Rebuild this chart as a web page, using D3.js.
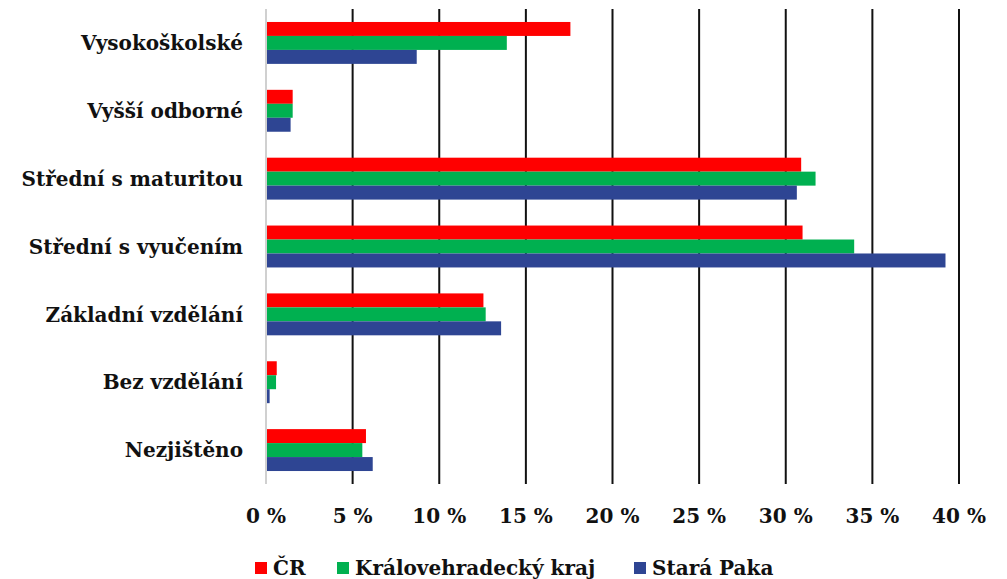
<!DOCTYPE html>
<html><head><meta charset="utf-8">
<script src="https://cdn.jsdelivr.net/npm/d3@7"></script>
<style>body{margin:0;background:#fff}</style>
</head><body>
<svg id="c" width="1007" height="579"></svg>
<script>
const categories = ["Vysokoškolské","Vyšší odborné","Střední s maturitou","Střední s vyučením","Základní vzdělání","Bez vzdělání","Nezjištěno"];
const seriesNames = ["ČR","Královehradecký kraj","Stará Paka"];
const cr =        [17.57, 1.54, 30.89, 30.97, 12.55, 0.62, 5.77];
const kraj =      [13.90, 1.54, 31.72, 33.95, 12.68, 0.58, 5.56];
const staraPaka = [8.70, 1.42, 30.64, 39.22, 13.57, 0.21, 6.16];
const tickValues = [0,5,10,15,20,25,30,35,40];
const colors = ["#ff0000","#00b050","#2e4593"];
const series = [cr, kraj, staraPaka];

const svg = d3.select("#c");
const pL = 266, pR = 959, pT = 9, pB = 484;
const x = d3.scaleLinear().domain([0,40]).range([pL,pR]);
const y = d3.scaleBand().domain(categories).range([pT,pB]).paddingInner(26/68).paddingOuter(13/68);
const y1 = d3.scaleBand().domain(seriesNames).range([0,y.bandwidth()]);

// gridlines
svg.append("g").selectAll("line").data(tickValues.slice(1)).join("line")
  .attr("x1",d=>x(d)).attr("x2",d=>x(d)).attr("y1",pT).attr("y2",pB)
  .attr("stroke","#111").attr("stroke-width",2);

// bars
categories.forEach((c,i)=>{
  const g = svg.append("g").attr("transform",`translate(0,${y(c)})`);
  g.selectAll("rect").data(series.map((s,j)=>({name:seriesNames[j],v:s[i],col:colors[j]}))).join("rect")
    .attr("x",x(0)).attr("y",d=>y1(d.name)).attr("width",d=>x(d.v)-x(0)).attr("height",y1.bandwidth())
    .attr("fill",d=>d.col);
});

// zero axis
svg.append("line").attr("x1",x(0)).attr("x2",x(0)).attr("y1",pT).attr("y2",pB)
  .attr("stroke","#d0d0d0").attr("stroke-width",2);

// category labels
svg.append("g").selectAll("text").data(categories).join("text")
  .attr("x",243).attr("y",d=>y(d)+y.bandwidth()/2).attr("dy","0.36em")
  .attr("text-anchor","end").attr("font-family","DejaVu Serif").attr("font-weight","bold")
  .attr("font-size",20).attr("fill","#111").text(d=>d);

// x tick labels
svg.append("g").selectAll("text").data(tickValues).join("text")
  .attr("x",d=>x(d)).attr("y",523).attr("text-anchor","middle")
  .attr("font-family","DejaVu Serif").attr("font-weight","bold").attr("font-size",20)
  .attr("fill","#111").text(d=>d+" %");

// legend
const legX = [255, 337, 634];
const leg = svg.append("g");
seriesNames.forEach((n,j)=>{
  leg.append("rect").attr("x",legX[j]).attr("y",562).attr("width",12).attr("height",12).attr("fill",colors[j]);
  leg.append("text").attr("x",legX[j]+18).attr("y",575).attr("font-family","DejaVu Serif")
    .attr("font-weight","bold").attr("font-size",20).attr("fill","#111").text(n);
});
</script>
</body></html>
